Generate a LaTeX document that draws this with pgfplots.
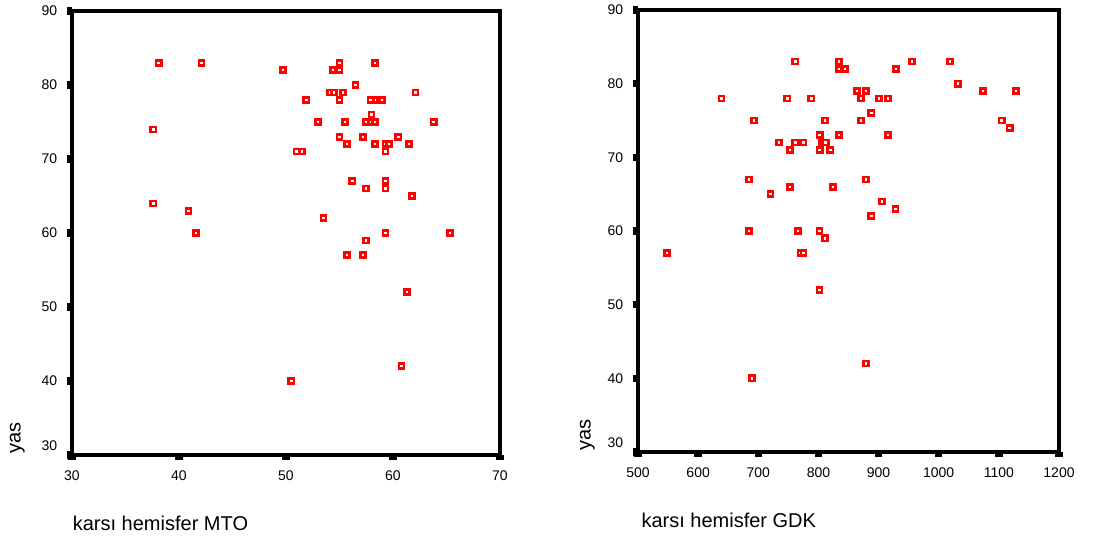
\documentclass[border=0pt]{standalone}
\usepackage{fontspec}
\setmainfont{Liberation Sans}
\usepackage{pgfplots}
\pgfplotsset{compat=1.18}

\pgfplotsset{
  spss/.style={
    scale only axis,
    anchor=south west,
    ymin=30, ymax=90,
    ytick={30,40,...,90},
    yticklabels={\raisebox{6.75pt}[\height][\depth]{30},40,50,60,70,80,90},
    axis line style={line width=2.3pt},
    line width=2.3pt,
    tick align=outside,
    xtick pos=bottom, ytick pos=left,
    major tick length=4pt,
    every tick/.style={black, line width=5.5pt},
    ticklabel style={font=\fontsize{10.5}{12}\selectfont},
    /pgf/number format/assume math mode=true,
    /pgf/number format/1000 sep={},
    yticklabel style={inner sep=0pt, xshift=-6pt},
    xticklabel style={inner sep=0pt, yshift=-7pt},
    label style={font=\fontsize{15}{18}\selectfont, inner sep=0pt},
    xlabel style={at={(axis description cs:0,0)}, anchor=base west, yshift=-57pt},
    ylabel style={at={(axis description cs:0,0)}, anchor=base west},
    ylabel={yas},
    clip=false,
  },
  pts/.style={only marks, mark=square*, mark size=1.9pt,
    mark options={draw=red, fill=white, line width=2pt}},
}

\begin{document}
\begin{tikzpicture}
\useasboundingbox (0,0) rectangle (822pt,406.5pt);

% left: karsi hemisfer MTO
\begin{axis}[spss,
  at={(54pt,65.25pt)}, width=321pt, height=333pt,
  xmin=30, xmax=70, xtick={30,40,...,70},
  xlabel={karsı hemisfer MTO},
  xlabel style={xshift=-0.5pt},
  ylabel style={yshift=38.5pt},
]
\addplot[pts] table {
38.1 83
42.1 83
55.0 83
58.3 83
49.7 82
54.4 82
55.0 82
56.5 80
54.1 79
54.5 79
55.3 79
62.1 79
51.9 78
55.0 78
57.9 78
58.4 78
58.8 78
59.0 78
58.0 76
53.0 75
55.5 75
57.5 75
58.0 75
58.3 75
63.8 75
37.6 74
55.0 73
57.2 73
60.5 73
55.7 72
58.3 72
59.3 72
59.6 72
61.5 72
51.0 71
51.5 71
59.3 71
56.2 67
59.3 67
57.5 66
59.3 66
61.8 65
37.6 64
40.9 63
53.5 62
41.6 60
59.3 60
65.3 60
57.5 59
55.7 57
57.2 57
61.3 52
60.8 42
50.5 40
};
\end{axis}

% right: karsi hemisfer GDK
\begin{axis}[spss,
  at={(478.5pt,67.5pt)}, width=315.75pt, height=331.5pt,
  xmin=500, xmax=1200, xtick={500,600,...,1200},
  xlabel={karsı hemisfer GDK},
  xlabel style={xshift=1.5pt},
  ylabel style={yshift=35.5pt},
]
\addplot[pts] table {
639 78
692.9 75
734.5 72
752.7 71
748.3 78
761.6 83
761.6 72
774.9 72
788.2 78
802.1 73
802 71
806.5 72
809 72
812 72
819.8 71
811 75
833.7 83
833.7 82
843.7 82
833.7 73
864.6 79
879.1 79
870.3 78
870.3 75
888 76
901.2 78
915.2 78
915.2 73
928.5 82
955.6 83
1018.8 83
1032.1 80
1073.7 79
1128 79
1104.7 75
1118 74
684.4 67
879 67
720.4 65
752.5 66
824.5 66
905.8 64
928 63
888 62
684.4 60
765.8 60
801.8 60
810.6 59
548.7 57
770 57
775 57
801.8 52
690 40
879 42
};
\end{axis}
\end{tikzpicture}
\end{document}
